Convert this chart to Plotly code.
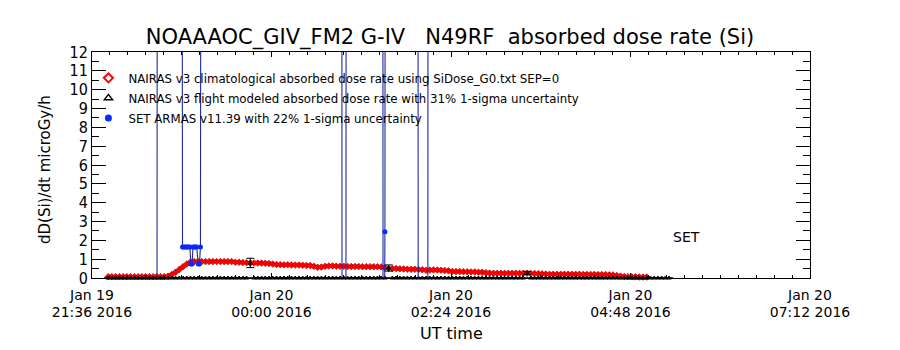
import pandas as pd
import plotly.graph_objects as go

FONT = "DejaVu Sans, sans-serif"
FONT_NARROW = "DejaVu Sans Condensed, Liberation Sans Narrow, DejaVu Sans, sans-serif"

# ---------------- axis limits / ticks ----------------
t_start = "2016-01-19 21:36"
t_end = "2016-01-20 07:12"
x_tickvals = ["2016-01-19 21:36", "2016-01-20 00:00", "2016-01-20 02:24",
              "2016-01-20 04:48", "2016-01-20 07:12"]
x_tick_dates = ["Jan 19", "Jan 20", "Jan 20", "Jan 20", "Jan 20"]
x_tick_clock = ["21:36 2016", "00:00 2016", "02:24 2016", "04:48 2016", "07:12 2016"]
y_tickvals = list(range(0, 13))

# ---------------- NAIRAS v3 climatological dose rate (3-min cadence from 21:49 UT) ----------------
clim_times = pd.date_range("2016-01-19 21:49", periods=145, freq="3min")
clim_rate = [
    0.07, 0.07, 0.07, 0.07, 0.07, 0.07, 0.07, 0.07, 0.07, 0.07,
    0.07, 0.07, 0.07, 0.07, 0.07, 0.07, 0.09, 0.18, 0.31, 0.45,
    0.60, 0.74, 0.85, 0.87, 0.87, 0.87, 0.87, 0.87, 0.87, 0.87,
    0.87, 0.87, 0.87, 0.87, 0.84, 0.83, 0.82, 0.81, 0.80, 0.80,
    0.79, 0.79, 0.78, 0.77, 0.74, 0.72, 0.71, 0.70, 0.70, 0.69,
    0.69, 0.69, 0.68, 0.67, 0.66, 0.62, 0.57, 0.58, 0.62, 0.64,
    0.64, 0.63, 0.62, 0.62, 0.61, 0.61, 0.61, 0.61, 0.60, 0.60,
    0.60, 0.60, 0.60, 0.59, 0.55, 0.51, 0.50, 0.50, 0.49, 0.48,
    0.47, 0.46, 0.46, 0.45, 0.44, 0.41, 0.42, 0.43, 0.42, 0.41,
    0.40, 0.38, 0.35, 0.34, 0.34, 0.33, 0.33, 0.32, 0.32, 0.31,
    0.30, 0.28, 0.26, 0.25, 0.25, 0.25, 0.25, 0.25, 0.25, 0.25,
    0.25, 0.25, 0.25, 0.24, 0.24, 0.23, 0.22, 0.21, 0.20, 0.20,
    0.20, 0.20, 0.20, 0.20, 0.20, 0.20, 0.20, 0.19, 0.19, 0.19,
    0.19, 0.18, 0.18, 0.18, 0.17, 0.16, 0.13, 0.10, 0.08, 0.07,
    0.06, 0.06, 0.05, 0.05, 0.05,
]

# ---------------- NAIRAS v3 flight-modeled dose rate (3-min cadence, waypoints non-zero) ----------------
flight_times = pd.date_range("2016-01-19 21:49", periods=151, freq="3min")
flight_rate = [
    0.0, 0.0, 0.0, 0.0, 0.0, 0.0, 0.0, 0.0, 0.0, 0.0,
    0.0, 0.0, 0.0, 0.0, 0.0, 0.0, 0.0, 0.0, 0.0, 0.0,
    0.0, 0.0, 0.0, 0.0, 0.0, 0.0, 0.0, 0.0, 0.0, 0.0,
    0.0, 0.0, 0.0, 0.0, 0.0, 0.0, 0.0, 0.0, 0.80, 0.0,
    0.0, 0.0, 0.0, 0.0, 0.0, 0.0, 0.0, 0.0, 0.0, 0.0,
    0.0, 0.0, 0.0, 0.0, 0.0, 0.0, 0.0, 0.0, 0.0, 0.0,
    0.0, 0.0, 0.0, 0.0, 0.0, 0.0, 0.0, 0.0, 0.0, 0.0,
    0.0, 0.0, 0.0, 0.0, 0.0, 0.53, 0.0, 0.0, 0.0, 0.0,
    0.0, 0.0, 0.0, 0.0, 0.0, 0.0, 0.0, 0.0, 0.0, 0.0,
    0.0, 0.0, 0.0, 0.0, 0.0, 0.0, 0.0, 0.0, 0.0, 0.0,
    0.0, 0.0, 0.0, 0.0, 0.0, 0.0, 0.0, 0.0, 0.0, 0.0,
    0.0, 0.0, 0.27, 0.0, 0.0, 0.0, 0.0, 0.0, 0.0, 0.0,
    0.0, 0.0, 0.0, 0.0, 0.0, 0.0, 0.0, 0.0, 0.0, 0.0,
    0.0, 0.0, 0.0, 0.0, 0.0, 0.0, 0.0, 0.0, 0.0, 0.0,
    0.0, 0.0, 0.0, 0.0, 0.0, 0.0, 0.0, 0.0, 0.0, 0.0,
    0.0,
]
flight_sigma_pct = 31

# ---------------- SET ARMAS v11.39 measurements (off-scale samples fall outside 0-12) ----------------
armas_times = [
    "2016-01-19 22:28:00", "2016-01-19 22:28:30", "2016-01-19 22:48:00",
    "2016-01-19 22:48:36", "2016-01-19 22:49:30", "2016-01-19 22:50:30",
    "2016-01-19 22:51:30", "2016-01-19 22:52:30", "2016-01-19 22:53:30",
    "2016-01-19 22:54:30", "2016-01-19 22:55:18", "2016-01-19 22:56:18",
    "2016-01-19 22:57:00", "2016-01-19 22:58:00", "2016-01-19 22:59:00",
    "2016-01-19 23:00:00", "2016-01-19 23:01:12", "2016-01-19 23:02:12",
    "2016-01-19 23:03:00", "2016-01-19 23:03:36", "2016-01-20 00:56:18",
    "2016-01-20 00:56:42", "2016-01-20 00:59:36", "2016-01-20 01:00:00",
    "2016-01-20 01:29:12", "2016-01-20 01:29:36", "2016-01-20 01:31:00",
    "2016-01-20 01:31:24", "2016-01-20 01:57:24", "2016-01-20 01:57:48",
    "2016-01-20 02:05:18", "2016-01-20 02:05:42", "2016-01-20 02:16:00",
]
armas_rate = [
    -20.0, 40.0, 40.0,
    1.65, 1.65, 1.65,
    1.65, 1.65, 1.65,
    1.65, 0.74, 0.74,
    1.65, 1.65, 1.65,
    1.65, 0.74, 0.74,
    1.65, 40.0, 40.0,
    -20.0, -20.0, 40.0,
    40.0, -20.0, 2.46,
    40.0, 40.0, -20.0,
    -20.0, 40.0, 40.0,
]

RED = "rgb(255,0,0)"
DARK_RED = "rgb(200,0,0)"
BLUE_LINE = "rgb(30,40,160)"
BLUE_MARK = "rgb(10,40,255)"

fig = go.Figure()

# data traces
fig.add_trace(go.Scatter(
    x=clim_times, y=clim_rate, mode="markers", showlegend=False,
    marker=dict(symbol="diamond", size=5, color=RED, line=dict(width=0.8, color=DARK_RED)),
    cliponaxis=False,
))
fig.add_trace(go.Scatter(
    x=flight_times, y=flight_rate, mode="markers", showlegend=False,
    marker=dict(symbol="triangle-up-open", size=4, color="black", line=dict(width=1, color="black")),
    error_y=dict(type="data",
                 array=[v * flight_sigma_pct / 100 if v > 0 else None for v in flight_rate],
                 color="black", thickness=1, width=4),
    cliponaxis=False,
))
fig.add_trace(go.Scatter(
    x=pd.to_datetime(armas_times), y=armas_rate, mode="lines+markers", showlegend=False,
    line=dict(color=BLUE_LINE, width=1.1),
    marker=dict(symbol="circle", size=5, color=BLUE_MARK),
))
# carrier for the second row of time labels
fig.add_trace(go.Scatter(x=[None], y=[None], xaxis="x2", showlegend=False, hoverinfo="skip"))

# legend entries
fig.add_trace(go.Scatter(
    x=[None], y=[None], mode="markers",
    name="NAIRAS v3 climatological absorbed dose rate using SiDose_G0.txt SEP=0",
    marker=dict(symbol="diamond-open", size=7, color=RED, line=dict(width=2, color=RED)),
))
fig.add_trace(go.Scatter(
    x=[None], y=[None], mode="markers",
    name="NAIRAS v3 flight modeled absorbed dose rate with 31% 1-sigma uncertainty",
    marker=dict(symbol="triangle-up-open", size=7, color="black", line=dict(width=1.5, color="black")),
))
fig.add_trace(go.Scatter(
    x=[None], y=[None], mode="markers",
    name="SET ARMAS v11.39 with 22% 1-sigma uncertainty",
    marker=dict(symbol="circle", size=7, color=BLUE_MARK),
))

fig.update_layout(
    width=900, height=350,
    margin=dict(l=92, r=90, t=52, b=72),
    paper_bgcolor="white", plot_bgcolor="white",
    font=dict(family=FONT, color="black", size=15),
    title=dict(text="NOAAAOC_GIV_FM2 G-IV\u00a0\u00a0\u00a0N49RF\u00a0\u00a0absorbed dose rate (Si)",
               x=0.5, xanchor="center", y=1 - 37 / 350, yref="container", yanchor="middle",
               font=dict(family=FONT, size=21, color="black")),
    showlegend=True,
    legend=dict(x=-0.005, xanchor="left", y=0.952, yanchor="top",
                bgcolor="rgba(0,0,0,0)", borderwidth=0, itemwidth=30,
                font=dict(family=FONT_NARROW, size=13.1, color="black"), tracegroupgap=0),
    xaxis=dict(
        type="date", range=[t_start, t_end], tickmode="array",
        tickvals=x_tickvals, ticktext=x_tick_dates, ticklabelstandoff=4,
        ticks="inside", ticklen=5, tickwidth=1, tickcolor="black",
        showline=True, linecolor="black", linewidth=1, mirror="ticks",
        showgrid=False, zeroline=False,
        tickfont=dict(family=FONT, size=14, color="black"),
        minor=dict(tickmode="linear", tick0=t_start, dtick=864000, ticks="inside",
                   ticklen=3, tickcolor="black", tickwidth=1, showgrid=False),
    ),
    xaxis2=dict(
        type="date", range=[t_start, t_end], overlaying="x", anchor="y", side="bottom",
        tickmode="array", tickvals=x_tickvals, ticktext=x_tick_clock,
        ticklabelstandoff=24, ticks="", showline=False, showgrid=False, zeroline=False,
        tickfont=dict(family=FONT, size=14, color="black"),
    ),
    yaxis=dict(
        range=[0, 12], tickmode="array", tickvals=y_tickvals,
        ticks="inside", ticklen=14, tickwidth=1, tickcolor="black",
        showline=True, linecolor="black", linewidth=1, mirror="ticks",
        showgrid=False, zeroline=False,
        tickfont=dict(family=FONT_NARROW, size=16, color="black"),
        minor=dict(tickmode="linear", tick0=0, dtick=0.5, ticks="inside",
                   ticklen=7, tickcolor="black", tickwidth=1, showgrid=False),
    ),
    annotations=[
        dict(text="dD(Si)/dt microGy/h", textangle=-90, xref="paper", yref="paper",
             x=0, y=0.5, xshift=-47, yshift=-5, showarrow=False,
             xanchor="center", yanchor="middle", font=dict(family=FONT, size=15)),
        dict(text="UT time", xref="paper", yref="paper", x=0.5, y=0, yshift=-55,
             showarrow=False, xanchor="center", yanchor="middle",
             font=dict(family=FONT, size=16)),
        dict(text="SET", xref="paper", yref="paper", x=(686 - 92) / 718, y=(278 - 237) / 226,
             showarrow=False, xanchor="center", yanchor="middle",
             font=dict(family=FONT, size=14)),
    ],
)

fig.write_html("out.html")
